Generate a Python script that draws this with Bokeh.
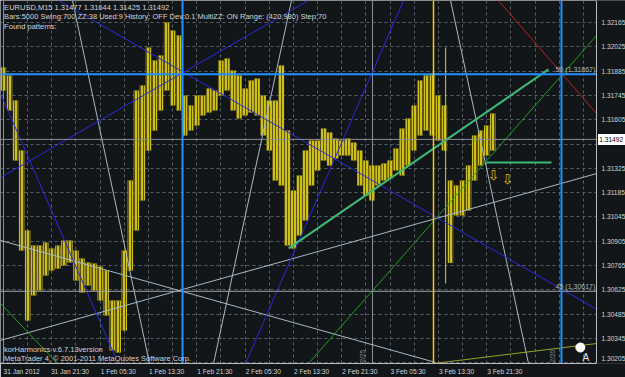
from bokeh.plotting import figure
from bokeh.models import Range1d, FixedTicker, Label
from bokeh.core.properties import value
from bokeh.embed import file_html
from bokeh.resources import INLINE

# ---------------- data ----------------
header_line = "EURUSD,M15  1.31477 1.31644 1.31425 1.31492"
settings_line = "Bars:5000  Swing:700  ZZ:38  Used:9  History: OFF Dev:0.1  MultiZZ: ON  Range: (420,980)  Step:70"
patterns_line = "Found patterns:"
indicator_line = "korHarmonics v.6.7.13version"
copyright_line = "MetaTrader 4, \u00a9 2001-2011 MetaQuotes Software Corp."

# hourly price ranges, hours since 31 Jan 2012 13:30
bar_hour = list(range(82))
bar_high = [1.31906, 1.31860, 1.31716, 1.31428, 1.30967, 1.30881, 1.30881, 1.30898, 1.30864, 1.30881,
            1.30910, 1.30910, 1.30852, 1.30806, 1.30783, 1.30777, 1.30760, 1.30737, 1.30564, 1.30564,
            1.30852, 1.31255, 1.31774, 1.31802, 1.32021, 1.31946, 1.31975, 1.32165, 1.32119, 1.32090,
            1.31745, 1.31687, 1.31745, 1.31745, 1.31785, 1.31774, 1.31946, 1.31958, 1.31889, 1.31860,
            1.31785, 1.31831, 1.31843, 1.31745, 1.31716, 1.31716, 1.31918, 1.31543, 1.31198, 1.31284,
            1.31428, 1.31486, 1.31486, 1.31555, 1.31532, 1.31497, 1.31486, 1.31497, 1.31474, 1.31428,
            1.31370, 1.31342, 1.31342, 1.31353, 1.31370, 1.31440, 1.31555, 1.31612, 1.31687, 1.31831,
            1.31860, 1.31872, 1.31745, 1.31687, 1.31255, 1.31226, 1.31255, 1.31342, 1.31514, 1.31543,
            1.31572, 1.31641]
bar_low = [1.31774, 1.31658, 1.31370, 1.30852, 1.30449, 1.30593, 1.30622, 1.30708, 1.30737, 1.30748,
           1.30766, 1.30783, 1.30679, 1.30610, 1.30650, 1.30622, 1.30564, 1.30478, 1.30276, 1.30265,
           1.30391, 1.30737, 1.30967, 1.31140, 1.31428, 1.31543, 1.31658, 1.31774, 1.31687, 1.31658,
           1.31514, 1.31543, 1.31572, 1.31630, 1.31647, 1.31658, 1.31745, 1.31774, 1.31658, 1.31612,
           1.31630, 1.31647, 1.31630, 1.31514, 1.31428, 1.31255, 1.31226, 1.30881, 1.30864, 1.30938,
           1.31025, 1.31226, 1.31313, 1.31370, 1.31342, 1.31382, 1.31399, 1.31399, 1.31370, 1.31226,
           1.31169, 1.31140, 1.31226, 1.31255, 1.31267, 1.31313, 1.31284, 1.31342, 1.31428, 1.31514,
           1.31543, 1.31514, 1.31486, 1.31428, 1.30780, 1.31054, 1.31054, 1.31082, 1.31255, 1.31342,
           1.31399, 1.31428]
spike_hour = [73.2]
spike_high = [1.32021]
spike_low = [1.30662]

price_ticks = [1.30205, 1.30345, 1.30485, 1.30625, 1.30765, 1.30905, 1.31045, 1.31185,
               1.31325, 1.31465, 1.31605, 1.31745, 1.31885, 1.32025, 1.32165]
time_ticks = [0, 8, 16, 24, 32, 40, 48, 56, 64, 72, 80]
time_labels = ["31 Jan 2012", "31 Jan 21:30", "1 Feb 05:30", "1 Feb 13:30", "1 Feb 21:30",
               "2 Feb 05:30", "2 Feb 13:30", "2 Feb 21:30", "3 Feb 05:30", "3 Feb 13:30", "3 Feb 21:30"]
grid_hours = list(range(0, 97, 4))

bid_price = 1.31492
fib_levels = [1.31867, 1.30617]
fib_names = ["50 (1.31867)", "45 (1.30617)"]
blue_vlines = [29.64, 92.38]
marker_vline = 71.19
sep_vlines = [0, 61.09]
sep_names = ["2/25", "2/20"]
sep_name_hour = [60.0, 91.4]

# trend lines: (hour0, price0, hour1, price1)
blue_lines = [(9.11, 1.32292, 98.84, 1.30501), (-0.5, 1.31272, 50.5, 1.32292),
              (-0.5, 1.31756, 18.54, 1.30236), (40.07, 1.30201, 66.23, 1.32292)]
light_lines = [(11.42, 1.32292, 24.17, 1.30201), (34.77, 1.30201, 47.68, 1.32292),
               (74.01, 1.32292, 86.92, 1.30201), (-0.5, 1.30334, 98.18, 1.31295),
               (-0.5, 1.30910, 71.52, 1.30207)]
seagreen_lines = [(47.19, 1.30864, 90.23, 1.31895), (79.97, 1.31359, 90.73, 1.31359)]
green_lines = [(50.5, 1.30201, 98.18, 1.32090), (-0.5, 1.30547, 8.94, 1.30201)]
olive_lines = [(71.19, 1.30201, 98.18, 1.30316)]
red_lines = [(81.95, 1.32292, 98.18, 1.31641)]

arrow_hour = [81.1, 83.4]
arrow_price = [1.31284, 1.31261]
point_a_hour = [95.5]
point_a_price = [1.30293]

# ---------------- figure ----------------
BG = "#121619"
TXT = "#d2d4d6"
EDGE = "#b8bcc0"
FONT = "Liberation Sans"
LABEL_SHIFT = 3          # hours: start of each time label sits at its grid line
CHART_END = 98.18        # right edge of the price area (hours); price scale lies beyond
PX = 0.0000576           # price per pixel

p = figure(frame_width=625, frame_height=363,
           x_range=Range1d(-0.5, 102.98), y_range=Range1d(1.30201, 1.32292),
           output_backend="svg", toolbar_location=None, y_axis_location="right",
           background_fill_color=BG, border_fill_color=BG,
           min_border_left=0, min_border_right=0, min_border_top=0, min_border_bottom=0,
           outline_line_color=None)

# time axis
p.xaxis.ticker = FixedTicker(ticks=[t + LABEL_SHIFT for t in time_ticks])
p.xaxis.major_label_overrides = {t + LABEL_SHIFT: s for t, s in zip(time_ticks, time_labels)}
p.xaxis.bounds = (-0.5, CHART_END)
p.xaxis.axis_line_color = EDGE
p.xaxis.major_tick_line_color = None
p.xaxis.minor_tick_line_color = None
p.xaxis.major_tick_out = 0
p.xaxis.major_tick_in = 0
p.xaxis.major_label_standoff = 4

# price axis: labels drawn into the price-scale strip at the right
label_prices = [v for v in price_ticks if v not in (1.30205, 1.31465)]
label_prices_shown = [1.30230] + label_prices
p.yaxis.ticker = FixedTicker(ticks=label_prices_shown)
overrides = {v: "%.5f" % v for v in label_prices}
overrides[1.30230] = "1.30205"
p.yaxis.major_label_overrides = overrides
p.yaxis.axis_line_color = None
p.yaxis.major_tick_line_color = None
p.yaxis.minor_tick_line_color = None
p.yaxis.major_tick_out = 0
p.yaxis.major_tick_in = 0
p.yaxis.major_label_standoff = -24

for ax in (p.xaxis, p.yaxis):
    ax.major_label_text_color = TXT
    ax.major_label_text_font = FONT
    ax.major_label_text_font_size = "6.6px"

# grid
p.xgrid.ticker = FixedTicker(ticks=grid_hours)
p.ygrid.ticker = FixedTicker(ticks=price_ticks)
for g in (p.xgrid, p.ygrid):
    g.grid_line_color = "#59606a"
    g.grid_line_dash = "3 3"
    g.grid_line_width = 1

# session separators
p.segment(x0=sep_vlines, y0=[1.30201] * 2, x1=sep_vlines, y1=[1.32292] * 2,
          line_color="#8d9297", line_width=1)

# price bars
p.vbar(x=bar_hour, top=bar_high, bottom=bar_low, width=0.9,
       fill_color="#cdbf17", line_color=None,
       hatch_pattern="vertical_line", hatch_color="#5a5410", hatch_scale=3, hatch_weight=1)
p.segment(x0=spike_hour, y0=spike_high, x1=spike_hour, y1=spike_low,
          line_color="#d8cc22", line_width=1)


def draw(lines, color, width):
    p.segment(x0=[l[0] for l in lines], y0=[l[1] for l in lines],
              x1=[l[2] for l in lines], y1=[l[3] for l in lines],
              line_color=color, line_width=width)


draw(light_lines, "#a6bac9", 1)
draw(blue_lines, "#2a2ade", 1)
draw(green_lines, "#1f9f1f", 1)
draw(olive_lines, "#9aa51e", 1)
draw(red_lines, "#b82222", 1)
draw(seagreen_lines, "#3cba78", 2)

# horizontal levels (bid, fibo)
p.segment(x0=[-0.5], y0=[bid_price], x1=[CHART_END], y1=[bid_price], line_color="#8a8f94", line_width=1)
p.segment(x0=[-0.5], y0=[fib_levels[1]], x1=[CHART_END], y1=[fib_levels[1]], line_color="#a0a4a8", line_width=1)
p.segment(x0=[-0.5], y0=[fib_levels[0]], x1=[CHART_END], y1=[fib_levels[0]], line_color="#1e90ff", line_width=2)
p.segment(x0=blue_vlines, y0=[1.30201] * 2, x1=blue_vlines, y1=[1.32292] * 2,
          line_color="#1e90ff", line_width=2)
p.segment(x0=[marker_vline], y0=[1.30201], x1=[marker_vline], y1=[1.32292],
          line_color="#ffc20e", line_width=1.5)

# fib level names
p.text(x=[CHART_END - 0.2] * 2, y=[v + PX for v in fib_levels], text=fib_names,
       text_align="right", text_baseline="bottom", text_color="#aeb6be",
       text_font=value(FONT), text_font_size="7px")

# separator names (rotated)
p.text(x=sep_name_hour, y=[1.30207, 1.30207], text=sep_names, angle=1.5708,
       text_color="#8d9297", text_font=value(FONT), text_font_size="6.5px",
       text_baseline="bottom", text_align="left")

# pattern arrows and point A
p.text(x=arrow_hour, y=arrow_price, text=["\u21e9", "\u21e9"], text_color="#e3b810",
       text_font=value("DejaVu Sans"), text_font_size="14px",
       text_align="center", text_baseline="middle")
p.scatter(x=point_a_hour, y=point_a_price, size=9, fill_color="white", line_color="white")
p.text(x=[h + 0.9 for h in point_a_hour], y=[v - 0.0006 for v in point_a_price], text=["A"],
       text_color="#e8e8e8", text_font=value(FONT), text_font_size="10px",
       text_align="center", text_baseline="middle")

# price-scale strip (covers grid), chart edge, bid box
p.quad(left=[CHART_END], right=[103.5], bottom=[1.30150], top=[1.32350], fill_color=BG, line_color=None)
p.segment(x0=[CHART_END], y0=[1.30201], x1=[CHART_END], y1=[1.32292], line_color=EDGE, line_width=1)
p.quad(left=[CHART_END + 0.25], right=[103.5], bottom=[bid_price - 5.5 * PX], top=[bid_price + 5.5 * PX],
       fill_color="white", line_color=None)
p.text(x=[CHART_END + 0.45], y=[bid_price], text=["1.31492"], text_color="black",
       text_font=value(FONT), text_font_size="6.6px", text_align="left", text_baseline="middle")

# header texts
for txt, yy in ((header_line, 1.32252), (settings_line, 1.32200), (patterns_line, 1.32145),
                (indicator_line, 1.30282), (copyright_line, 1.30229)):
    p.add_layout(Label(x=0.1, y=yy, text=txt, text_align="left", text_baseline="middle",
                       text_color=TXT, text_font=FONT, text_font_size="7.5px"))

open("out.html", "w").write(file_html(p, INLINE))
